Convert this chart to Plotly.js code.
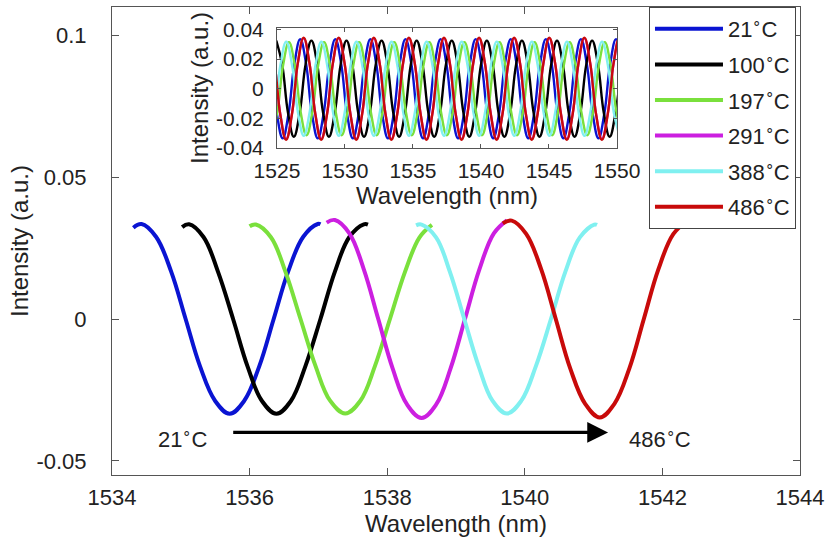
<!DOCTYPE html>
<html>
<head>
<meta charset="utf-8">
<script src="https://cdn.plot.ly/plotly-3.0.1.min.js"></script>
<style>html,body{margin:0;padding:0;background:#fff;}#chart{width:828px;height:543px;}</style>
</head>
<body>
<div id="chart"></div>
<script>
// ---------- Data ----------
const seriesNames = ['21<sup>∘</sup>C', '100<sup>∘</sup>C', '197<sup>∘</sup>C', '291<sup>∘</sup>C', '388<sup>∘</sup>C', '486<sup>∘</sup>C'];
const seriesColors = ['#0a14d2', '#000000', '#7ae03c', '#cc1fe0', '#80f0f0', '#c80a0a'];

// Main panel: one fringe of each spectrum
const mainX21 = [1534.31, 1534.43, 1534.64, 1534.86, 1535.07, 1535.28, 1535.50, 1535.71, 1535.92, 1536.14, 1536.35, 1536.56, 1536.78, 1536.99, 1537.03];
const mainY21 = [0.0322, 0.0335, 0.0290, 0.0167, 0.0000, -0.0167, -0.0289, -0.0334, -0.0289, -0.0167, 0.0000, 0.0167, 0.0290, 0.0335, 0.0334];
const mainX100 = [1535.02, 1535.12, 1535.33, 1535.54, 1535.76, 1535.97, 1536.18, 1536.39, 1536.60, 1536.81, 1537.03, 1537.24, 1537.45, 1537.66, 1537.72];
const mainY100 = [0.0324, 0.0334, 0.0289, 0.0167, 0.0000, -0.0167, -0.0289, -0.0334, -0.0289, -0.0167, 0.0000, 0.0167, 0.0289, 0.0334, 0.0333];
const mainX197 = [1536.00, 1536.09, 1536.31, 1536.52, 1536.74, 1536.96, 1537.17, 1537.39, 1537.61, 1537.82, 1538.04, 1538.26, 1538.47, 1538.65];
const mainY197 = [0.0327, 0.0333, 0.0288, 0.0167, 0.0000, -0.0167, -0.0288, -0.0333, -0.0288, -0.0167, 0.0000, 0.0167, 0.0288, 0.0332];
const mainX291 = [1537.12, 1537.24, 1537.45, 1537.66, 1537.87, 1538.08, 1538.29, 1538.50, 1538.71, 1538.92, 1539.13, 1539.34, 1539.55, 1539.74];
const mainY291 = [0.0340, 0.0349, 0.0302, 0.0175, 0.0000, -0.0175, -0.0302, -0.0349, -0.0302, -0.0175, 0.0000, 0.0175, 0.0302, 0.0348];
const mainX388 = [1538.42, 1538.50, 1538.71, 1538.91, 1539.12, 1539.33, 1539.53, 1539.74, 1539.95, 1540.16, 1540.38, 1540.59, 1540.80, 1541.01, 1541.05];
const mainY388 = [0.0330, 0.0333, 0.0288, 0.0167, 0.0000, -0.0167, -0.0288, -0.0333, -0.0288, -0.0167, 0.0000, 0.0167, 0.0288, 0.0333, 0.0332];
const mainX486 = [1539.68, 1539.81, 1540.02, 1540.24, 1540.45, 1540.66, 1540.88, 1541.09, 1541.30, 1541.52, 1541.73, 1541.94, 1542.16, 1542.37];
const mainY486 = [0.0337, 0.0347, 0.0300, 0.0174, 0.0000, -0.0174, -0.0300, -0.0347, -0.0300, -0.0174, 0.0000, 0.0174, 0.0300, 0.0347];

// Inset: full spectra 1525-1550 nm
const insetX21 = [1524.13, 1524.56, 1524.99, 1525.42, 1525.85, 1526.28, 1526.71, 1527.14, 1527.57, 1528.00, 1528.43, 1528.86,
  1529.29, 1529.72, 1530.15, 1530.58, 1531.01, 1531.44, 1531.87, 1532.30, 1532.73, 1533.16, 1533.59, 1534.02,
  1534.45, 1534.88, 1535.31, 1535.74, 1536.17, 1536.60, 1537.03, 1537.46, 1537.89, 1538.32, 1538.75, 1539.18,
  1539.61, 1540.04, 1540.47, 1540.90, 1541.33, 1541.76, 1542.19, 1542.62, 1543.05, 1543.48, 1543.91, 1544.34,
  1544.77, 1545.20, 1545.63, 1546.06, 1546.49, 1546.92, 1547.35, 1547.78, 1548.21, 1548.64, 1549.07, 1549.50,
  1549.93, 1550.36];
const insetY21 = [0.0335, 0.0168, -0.0168, -0.0335, -0.0168, 0.0168, 0.0335, 0.0168, -0.0168, -0.0335, -0.0168, 0.0168,
  0.0335, 0.0168, -0.0168, -0.0335, -0.0168, 0.0168, 0.0335, 0.0168, -0.0168, -0.0335, -0.0168, 0.0168,
  0.0335, 0.0168, -0.0168, -0.0335, -0.0168, 0.0168, 0.0335, 0.0168, -0.0168, -0.0335, -0.0168, 0.0168,
  0.0335, 0.0168, -0.0168, -0.0335, -0.0168, 0.0168, 0.0335, 0.0168, -0.0168, -0.0335, -0.0168, 0.0168,
  0.0335, 0.0168, -0.0168, -0.0335, -0.0168, 0.0168, 0.0335, 0.0168, -0.0168, -0.0335, -0.0168, 0.0168,
  0.0335, 0.0168];
const insetX100 = [1524.95, 1525.38, 1525.81, 1526.24, 1526.67, 1527.10, 1527.53, 1527.96, 1528.39, 1528.82, 1529.25, 1529.68,
  1530.11, 1530.54, 1530.97, 1531.40, 1531.83, 1532.26, 1532.69, 1533.12, 1533.55, 1533.98, 1534.41, 1534.84,
  1535.27, 1535.70, 1536.13, 1536.56, 1536.99, 1537.42, 1537.85, 1538.28, 1538.71, 1539.14, 1539.57, 1540.00,
  1540.43, 1540.86, 1541.29, 1541.72, 1542.15, 1542.58, 1543.01, 1543.44, 1543.87, 1544.30, 1544.73, 1545.16,
  1545.59, 1546.02, 1546.45, 1546.88, 1547.31, 1547.74, 1548.17, 1548.60, 1549.03, 1549.46, 1549.89, 1550.32];
const insetY100 = [0.0325, 0.0163, -0.0163, -0.0325, -0.0163, 0.0163, 0.0325, 0.0163, -0.0163, -0.0325, -0.0163, 0.0163,
  0.0325, 0.0163, -0.0163, -0.0325, -0.0163, 0.0163, 0.0325, 0.0163, -0.0163, -0.0325, -0.0163, 0.0163,
  0.0325, 0.0163, -0.0163, -0.0325, -0.0163, 0.0163, 0.0325, 0.0163, -0.0163, -0.0325, -0.0163, 0.0163,
  0.0325, 0.0163, -0.0163, -0.0325, -0.0163, 0.0163, 0.0325, 0.0163, -0.0163, -0.0325, -0.0163, 0.0163,
  0.0325, 0.0163, -0.0163, -0.0325, -0.0163, 0.0163, 0.0325, 0.0163, -0.0163, -0.0325, -0.0163, 0.0163];
const insetX197 = [1524.59, 1525.02, 1525.45, 1525.88, 1526.31, 1526.74, 1527.17, 1527.60, 1528.03, 1528.46, 1528.89, 1529.32,
  1529.75, 1530.18, 1530.61, 1531.04, 1531.47, 1531.90, 1532.33, 1532.76, 1533.19, 1533.62, 1534.05, 1534.48,
  1534.91, 1535.34, 1535.77, 1536.20, 1536.63, 1537.06, 1537.49, 1537.92, 1538.35, 1538.78, 1539.21, 1539.64,
  1540.07, 1540.50, 1540.93, 1541.36, 1541.79, 1542.22, 1542.65, 1543.08, 1543.51, 1543.94, 1544.37, 1544.80,
  1545.23, 1545.66, 1546.09, 1546.52, 1546.95, 1547.38, 1547.81, 1548.24, 1548.67, 1549.10, 1549.53, 1549.96,
  1550.39];
const insetY197 = [-0.0315, -0.0158, 0.0158, 0.0315, 0.0158, -0.0158, -0.0315, -0.0158, 0.0158, 0.0315, 0.0158, -0.0158,
  -0.0315, -0.0158, 0.0158, 0.0315, 0.0158, -0.0158, -0.0315, -0.0158, 0.0158, 0.0315, 0.0158, -0.0158,
  -0.0315, -0.0158, 0.0158, 0.0315, 0.0158, -0.0158, -0.0315, -0.0158, 0.0158, 0.0315, 0.0158, -0.0158,
  -0.0315, -0.0158, 0.0158, 0.0315, 0.0158, -0.0158, -0.0315, -0.0158, 0.0158, 0.0315, 0.0158, -0.0158,
  -0.0315, -0.0158, 0.0158, 0.0315, 0.0158, -0.0158, -0.0315, -0.0158, 0.0158, 0.0315, 0.0158, -0.0158,
  -0.0315];
const insetX291 = [1524.38, 1524.81, 1525.24, 1525.67, 1526.10, 1526.53, 1526.96, 1527.39, 1527.82, 1528.25, 1528.68, 1529.11,
  1529.54, 1529.97, 1530.40, 1530.83, 1531.26, 1531.69, 1532.12, 1532.55, 1532.98, 1533.41, 1533.84, 1534.27,
  1534.70, 1535.13, 1535.56, 1535.99, 1536.42, 1536.85, 1537.28, 1537.71, 1538.14, 1538.57, 1539.00, 1539.43,
  1539.86, 1540.29, 1540.72, 1541.15, 1541.58, 1542.01, 1542.44, 1542.87, 1543.30, 1543.73, 1544.16, 1544.59,
  1545.02, 1545.45, 1545.88, 1546.31, 1546.74, 1547.17, 1547.60, 1548.03, 1548.46, 1548.89, 1549.32, 1549.75,
  1550.18, 1550.61];
const insetY291 = [0.0340, 0.0170, -0.0170, -0.0340, -0.0170, 0.0170, 0.0340, 0.0170, -0.0170, -0.0340, -0.0170, 0.0170,
  0.0340, 0.0170, -0.0170, -0.0340, -0.0170, 0.0170, 0.0340, 0.0170, -0.0170, -0.0340, -0.0170, 0.0170,
  0.0340, 0.0170, -0.0170, -0.0340, -0.0170, 0.0170, 0.0340, 0.0170, -0.0170, -0.0340, -0.0170, 0.0170,
  0.0340, 0.0170, -0.0170, -0.0340, -0.0170, 0.0170, 0.0340, 0.0170, -0.0170, -0.0340, -0.0170, 0.0170,
  0.0340, 0.0170, -0.0170, -0.0340, -0.0170, 0.0170, 0.0340, 0.0170, -0.0170, -0.0340, -0.0170, 0.0170,
  0.0340, 0.0170];
const insetX388 = [1524.39, 1524.82, 1525.25, 1525.68, 1526.11, 1526.54, 1526.97, 1527.40, 1527.83, 1528.26, 1528.69, 1529.12,
  1529.55, 1529.98, 1530.41, 1530.84, 1531.27, 1531.70, 1532.13, 1532.56, 1532.99, 1533.42, 1533.85, 1534.28,
  1534.71, 1535.14, 1535.57, 1536.00, 1536.43, 1536.86, 1537.29, 1537.72, 1538.15, 1538.58, 1539.01, 1539.44,
  1539.87, 1540.30, 1540.73, 1541.16, 1541.59, 1542.02, 1542.45, 1542.88, 1543.31, 1543.74, 1544.17, 1544.60,
  1545.03, 1545.46, 1545.89, 1546.32, 1546.75, 1547.18, 1547.61, 1548.04, 1548.47, 1548.90, 1549.33, 1549.76,
  1550.19];
const insetY388 = [-0.0318, -0.0159, 0.0159, 0.0318, 0.0159, -0.0159, -0.0318, -0.0159, 0.0159, 0.0318, 0.0159, -0.0159,
  -0.0318, -0.0159, 0.0159, 0.0318, 0.0159, -0.0159, -0.0318, -0.0159, 0.0159, 0.0318, 0.0159, -0.0159,
  -0.0318, -0.0159, 0.0159, 0.0318, 0.0159, -0.0159, -0.0318, -0.0159, 0.0159, 0.0318, 0.0159, -0.0159,
  -0.0318, -0.0159, 0.0159, 0.0318, 0.0159, -0.0159, -0.0318, -0.0159, 0.0159, 0.0318, 0.0159, -0.0159,
  -0.0318, -0.0159, 0.0159, 0.0318, 0.0159, -0.0159, -0.0318, -0.0159, 0.0159, 0.0318, 0.0159, -0.0159,
  -0.0318];
const insetX486 = insetX291;
const insetY486 = [0.0345, 0.0173, -0.0173, -0.0345, -0.0173, 0.0173, 0.0345, 0.0173, -0.0173, -0.0345, -0.0173, 0.0173,
  0.0345, 0.0173, -0.0173, -0.0345, -0.0173, 0.0173, 0.0345, 0.0173, -0.0173, -0.0345, -0.0173, 0.0173,
  0.0345, 0.0173, -0.0173, -0.0345, -0.0173, 0.0173, 0.0345, 0.0173, -0.0173, -0.0345, -0.0173, 0.0173,
  0.0345, 0.0173, -0.0173, -0.0345, -0.0173, 0.0173, 0.0345, 0.0173, -0.0173, -0.0345, -0.0173, 0.0173,
  0.0345, 0.0173, -0.0173, -0.0345, -0.0173, 0.0173, 0.0345, 0.0173, -0.0173, -0.0345, -0.0173, 0.0173,
  0.0345, 0.0173];

// Tick labels
const mainXTicks = [1534, 1536, 1538, 1540, 1542, 1544];
const mainYTicks = [-0.05, 0, 0.05, 0.1];
const mainYTickText = ['-0.05', '0', '0.05', '0.1'];
const insetXTicks = [1525, 1530, 1535, 1540, 1545, 1550];
const insetYTicks = [-0.04, -0.02, 0, 0.02, 0.04];
const insetYTickText = ['-0.04', '-0.02', '0', '0.02', '0.04'];

// ---------- Traces ----------
const mainXs = [mainX21, mainX100, mainX197, mainX291, mainX388, mainX486];
const mainYs = [mainY21, mainY100, mainY197, mainY291, mainY388, mainY486];
const insetXs = [insetX21, insetX100, insetX197, insetX291, insetX388, insetX486];
const insetYs = [insetY21, insetY100, insetY197, insetY291, insetY388, insetY486];

const traces = [];
for (let i = 0; i < 6; i++) {
  traces.push({
    x: mainXs[i], y: mainYs[i], type: 'scatter', mode: 'lines',
    name: seriesNames[i], legendgroup: 'g' + i,
    line: {color: seriesColors[i], width: 4, shape: 'spline', smoothing: 1.1},
    xaxis: 'x', yaxis: 'y', hoverinfo: 'skip'
  });
}
for (let i = 0; i < 6; i++) {
  traces.push({
    x: insetXs[i], y: insetYs[i], type: 'scatter', mode: 'lines',
    showlegend: false, legendgroup: 'g' + i,
    line: {color: seriesColors[i], width: 2.4, shape: 'spline', smoothing: 1.2},
    xaxis: 'x2', yaxis: 'y2', hoverinfo: 'skip'
  });
}

const axisCommon = {
  showline: true, linecolor: '#555', linewidth: 1, mirror: 'ticks',
  ticks: 'inside', tickcolor: '#555', showgrid: false, zeroline: false,
  tickfont: {size: 22, color: '#222'}
};

const layout = {
  width: 828, height: 543,
  margin: {l: 112, r: 28, t: 7, b: 68},
  paper_bgcolor: '#fff', plot_bgcolor: '#fff',
  font: {family: 'Liberation Sans, Arial, sans-serif', size: 22, color: '#222'},
  showlegend: true,
  xaxis: Object.assign({}, axisCommon, {
    range: [1534, 1544], tickvals: mainXTicks, ticklen: 7, ticklabelstandoff: 3,
    title: {text: 'Wavelength (nm)', font: {size: 24}, standoff: 5}
  }),
  yaxis: Object.assign({}, axisCommon, {
    range: [-0.055, 0.11], tickvals: mainYTicks, ticktext: mainYTickText, ticklen: 7, ticklabelstandoff: 20,
    title: {text: 'Intensity (a.u.)', font: {size: 24}, standoff: 1}
  }),
  xaxis2: Object.assign({}, axisCommon, {
    domain: [0.2398, 0.734], anchor: 'y2', range: [1525, 1550], tickvals: insetXTicks, ticklen: 4, ticklabelstandoff: 4,
    tickfont: {size: 21, color: '#222'},
    title: {text: 'Wavelength (nm)', font: {size: 24}, standoff: 3}
  }),
  yaxis2: Object.assign({}, axisCommon, {
    domain: [0.699, 0.955], anchor: 'x2', range: [-0.04, 0.041], tickvals: insetYTicks, ticktext: insetYTickText, ticklen: 4, ticklabelstandoff: 8,
    tickfont: {size: 21, color: '#222'},
    title: {text: 'Intensity (a.u.)', font: {size: 24}, standoff: 0}
  }),
  legend: {
    x: 0.7805, y: 1, xanchor: 'left', yanchor: 'top',
    bgcolor: '#fff', bordercolor: '#444', borderwidth: 1,
    font: {size: 22, color: '#222'}, tracegroupgap: 4, itemwidth: 68
  },
  annotations: [
    {x: 1541.21, y: -0.040, ax: 1535.74, ay: -0.040, xref: 'x', yref: 'y', axref: 'x', ayref: 'y',
     text: '', showarrow: true, arrowhead: 2, arrowsize: 1.3, arrowwidth: 3.2, arrowcolor: '#000'},
    {x: 1535.03, y: -0.0418, xref: 'x', yref: 'y', text: '21<sup>∘</sup>C', showarrow: false, font: {size: 22, color: '#222'}},
    {x: 1541.97, y: -0.0418, xref: 'x', yref: 'y', text: '486<sup>∘</sup>C', showarrow: false, font: {size: 22, color: '#222'}}
  ]
};

Plotly.newPlot('chart', traces, layout, {displayModeBar: false, staticPlot: true});
</script>
</body>
</html>
